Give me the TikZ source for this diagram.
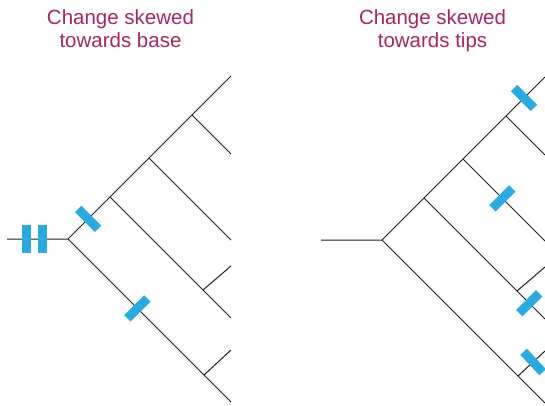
\documentclass[tikz,border=0pt]{standalone}
\usepackage{fontspec}
\setmainfont{Liberation Sans}
\usetikzlibrary{positioning}

\definecolor{hitblue}{RGB}{41,171,226}
\definecolor{titlered}{RGB}{165,38,98}
\definecolor{branchgray}{RGB}{35,31,32}

\tikzset{
  phylo/.pic={
    \coordinate (-stem) at (-61,0);
    \coordinate (-a) at (0,0);
    \coordinate (-b) at (42,-42);
    \coordinate (-c) at (81,-81);
    \coordinate (-d) at (124,-124);
    \coordinate (-e) at (135,51);
    \coordinate (-f) at (136,136);
    \coordinate (-t1) at (163,-163);
    \coordinate (-t2) at (163,-85);
    \coordinate (-t3) at (163,1);
    \coordinate (-t4) at (163,27);
    \coordinate (-t5) at (163,79);
    \coordinate (-t6) at (163,111);
    \coordinate (-t7) at (163,163);
    \draw[branch] (-stem) -- (-a) -- (-t1);
    \draw[branch] (-a) -- (-t7);
    \draw[branch] (-d) -- (-t2);
    \draw[branch] (-c) -- (-t3);
    \draw[branch] (-b) -- (-t5);
    \draw[branch] (-e) -- (-t4);
    \draw[branch] (-f) -- (-t6);
  }
}

\begin{document}
\begin{tikzpicture}[x=1pt, y=-1pt,
            branch/.style={draw=branchgray, line width=1pt},
            hit/.style={fill=hitblue, sloped, inner sep=0pt,
                        minimum width=9pt, minimum height=28pt},
            heading/.style={text=titlered, align=center, anchor=base,
                            font=\fontsize{20.5}{23}\selectfont}]
        \clip (0,0) rectangle (545,406);

        \node[heading] (basetitle) at (120.5,48) {Change skewed\\towards base};
        \node[heading] (tiptitle) at (432.5,48) {Change skewed\\towards tips};

        \pic (base) at (68,239) {phylo};
        \pic (tips) at (382,240) {phylo};

        \path (base-stem) -- (base-a) node[hit, pos=0.32] {} node[hit, pos=0.58] {};
        \path (base-a) -- (base-b) node[hit, pos=0.48] {};
        \path (base-a) -- (base-f) node[hit, pos=0.51] {};

        \path (tips-d) -- (tips-t1) node[hit, pos=0.46] {};
        \path (tips-c) -- (tips-t3) node[hit, pos=0.48] {};
        \path (tips-b) -- (tips-t5) node[hit, pos=0.87] {};
        \path (tips-f) -- (tips-t6) node[hit, pos=0.56] {};
\end{tikzpicture}
\end{document}
